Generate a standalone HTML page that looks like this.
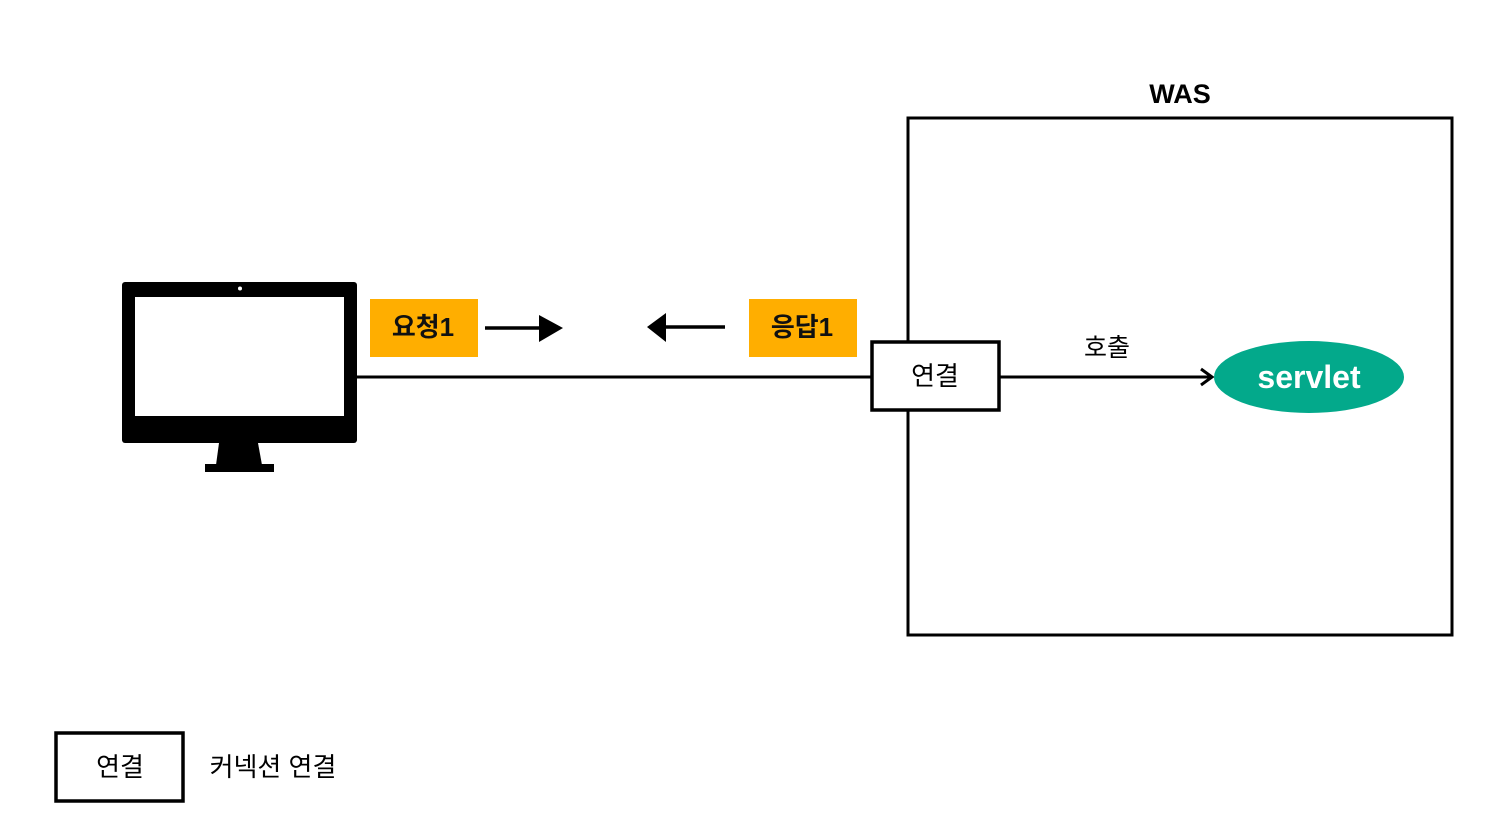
<!DOCTYPE html>
<html><head><meta charset="utf-8"><style>
html,body{margin:0;padding:0;background:#fff;}
svg{display:block;}
text{font-family:"Liberation Sans","Noto Sans CJK KR",sans-serif;}
</style></head><body>
<svg width="1512" height="820" viewBox="0 0 1512 820" xmlns="http://www.w3.org/2000/svg">
<rect x="0" y="0" width="1512" height="820" fill="#fff"/>
<rect x="122" y="282" width="235" height="161" rx="3" fill="#000"/>
<rect x="135" y="297" width="209" height="119" fill="#fff"/>
<circle cx="240" cy="288.5" r="2" fill="#fff"/>
<polygon points="219,443 258,443 262,465 216,465" fill="#000"/>
<rect x="205" y="464" width="69" height="8" fill="#000"/>
<line x1="357" y1="377" x2="872" y2="377" stroke="#000" stroke-width="3"/>
<rect x="370" y="299" width="108" height="58" fill="#FFAE00"/>
<text x="423" y="336" font-size="26" font-weight="bold" text-anchor="middle" fill="#111">요청1</text>
<rect x="749" y="299" width="108" height="58" fill="#FFAE00"/>
<text x="802" y="336" font-size="26" font-weight="bold" text-anchor="middle" fill="#111">응답1</text>
<line x1="485" y1="328" x2="545" y2="328" stroke="#000" stroke-width="3.5"/>
<polygon points="539,315 563,328 539,342" fill="#000"/>
<line x1="665" y1="327" x2="725" y2="327" stroke="#000" stroke-width="3.5"/>
<polygon points="666,313 647,327 666,342" fill="#000"/>
<text x="1180" y="103" font-size="27" font-weight="bold" text-anchor="middle" fill="#000">WAS</text>
<rect x="908" y="118" width="544" height="517" fill="none" stroke="#000" stroke-width="3"/>
<rect x="872" y="342" width="127" height="68" fill="#fff" stroke="#000" stroke-width="3.5"/>
<text x="935" y="385" font-size="26" text-anchor="middle" fill="#000">연결</text>
<line x1="999" y1="377" x2="1211" y2="377" stroke="#000" stroke-width="3"/>
<polyline points="1201,369 1212,377 1201,385" fill="none" stroke="#000" stroke-width="3"/>
<text x="1107" y="356" font-size="25" text-anchor="middle" fill="#000">호출</text>
<ellipse cx="1309" cy="377" rx="95" ry="36" fill="#03A98B"/>
<text x="1309" y="388" font-size="32" font-weight="bold" text-anchor="middle" fill="#fff">servlet</text>
<rect x="56" y="733" width="127" height="68" fill="#fff" stroke="#000" stroke-width="3.5"/>
<text x="120" y="776" font-size="26" text-anchor="middle" fill="#000">연결</text>
<text x="273" y="776" font-size="26" text-anchor="middle" fill="#000">커넥션 연결</text>
</svg>
</body></html>
